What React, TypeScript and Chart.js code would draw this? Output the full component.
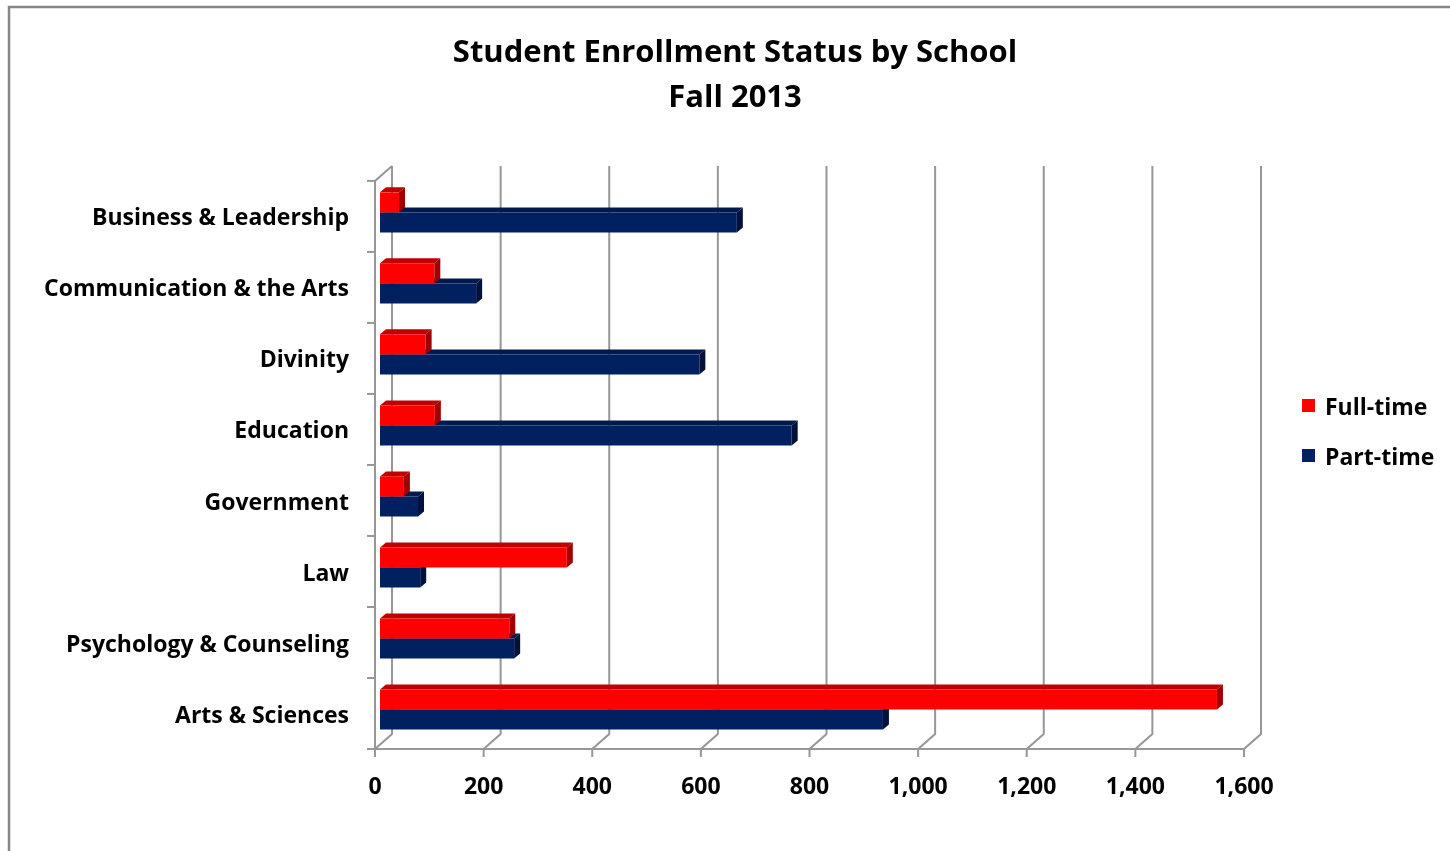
import React, { useEffect, useRef } from "react";
import { Chart, registerables } from "chart.js";

Chart.register(...registerables);

const titleLines = ["Student Enrollment Status by School", "Fall 2013"];
const schools = [
  "Business & Leadership",
  "Communication & the Arts",
  "Divinity",
  "Education",
  "Government",
  "Law",
  "Psychology & Counseling",
  "Arts & Sciences",
];
const fullTime = [35, 100, 84, 101, 44, 344, 238, 1541];
const partTime = [657, 177, 588, 758, 70, 74, 247, 926];
const xTickValues = [0, 200, 400, 600, 800, 1000, 1200, 1400, 1600];
const seriesNames = ["Full-time", "Part-time"];
const seriesColors = ["#FF0000", "#002060"];
const topColors = ["#C00000", "#001A4D"];
const sideColors = ["#A00000", "#00123A"];

const FONT = "'Open Sans', Lato, sans-serif";

// 3D offsets relative to the bar plane
const FRONT = { dx: -5, dy: 4 };
const BACK = { dx: 12, dy: -11 };
const BAR_DEPTH = { dx: 6, dy: -5 };
const GRID_COLOR = "#979797";

const threeD = {
  id: "threeD",
  beforeDraw(chart: any) {
    const ctx = chart.ctx;
    ctx.save();
    ctx.fillStyle = "#ffffff";
    ctx.fillRect(0, 0, chart.width, chart.height);
    ctx.strokeStyle = "#878787";
    ctx.lineWidth = 2.5;
    ctx.strokeRect(9, 7, chart.width + 50, chart.height + 50);
    ctx.restore();
  },
  beforeDatasetsDraw(chart: any) {
    const ctx = chart.ctx;
    const xs = chart.scales.x;
    const a = chart.chartArea;
    ctx.save();
    ctx.strokeStyle = GRID_COLOR;
    ctx.lineWidth = 2;
    ctx.lineCap = "butt";
    const fTop = a.top + FRONT.dy;
    const fBot = a.bottom + FRONT.dy;
    const bTop = a.top + BACK.dy;
    const bBot = a.bottom + BACK.dy;
    const fLeft = xs.getPixelForValue(xTickValues[0]) + FRONT.dx;
    const fRight = xs.getPixelForValue(xTickValues[xTickValues.length - 1]) + FRONT.dx;
    // back gridlines and floor diagonals
    xTickValues.forEach((v) => {
      const x = xs.getPixelForValue(v);
      const xb = x + BACK.dx;
      const xf = x + FRONT.dx;
      ctx.beginPath();
      ctx.moveTo(xb, bTop);
      ctx.lineTo(xb, bBot);
      ctx.lineTo(xf, fBot);
      ctx.lineTo(xf, fBot + 8);
      ctx.stroke();
    });
    // front axis line
    ctx.beginPath();
    ctx.moveTo(fLeft - 8, fBot);
    ctx.lineTo(fRight, fBot);
    ctx.stroke();
    // left wall front edge + top diagonal
    const xb0 = xs.getPixelForValue(0) + BACK.dx;
    ctx.beginPath();
    ctx.moveTo(xb0, bTop);
    ctx.lineTo(fLeft, fTop);
    ctx.lineTo(fLeft, fBot);
    ctx.stroke();
    // category ticks on left
    const n = schools.length;
    const band = (fBot - fTop) / n;
    for (let k = 0; k < n; k++) {
      const y = fTop + band * k;
      ctx.beginPath();
      ctx.moveTo(fLeft - 8, y);
      ctx.lineTo(fLeft, y);
      ctx.stroke();
    }
    // bar 3D faces
    for (let di = chart.data.datasets.length - 1; di >= 0; di--) {
      const meta = chart.getDatasetMeta(di);
      meta.data.forEach((el: any) => {
        const p = el.getProps(["x", "y", "base", "height"], true);
        const left = Math.min(p.base, p.x);
        const right = Math.max(p.base, p.x);
        const top = p.y - p.height / 2;
        const bottom = p.y + p.height / 2;
        ctx.fillStyle = topColors[di];
        ctx.beginPath();
        ctx.moveTo(left, top);
        ctx.lineTo(right, top);
        ctx.lineTo(right + BAR_DEPTH.dx, top + BAR_DEPTH.dy);
        ctx.lineTo(left + BAR_DEPTH.dx, top + BAR_DEPTH.dy);
        ctx.closePath();
        ctx.fill();
        ctx.fillStyle = sideColors[di];
        ctx.beginPath();
        ctx.moveTo(right, top);
        ctx.lineTo(right + BAR_DEPTH.dx, top + BAR_DEPTH.dy);
        ctx.lineTo(right + BAR_DEPTH.dx, bottom + BAR_DEPTH.dy);
        ctx.lineTo(right, bottom);
        ctx.closePath();
        ctx.fill();
      });
    }
    ctx.restore();
  },
  afterDraw(chart: any) {
    const ctx = chart.ctx;
    ctx.save();
    ctx.font = `bold 23px ${FONT}`;
    ctx.textBaseline = "middle";
    ctx.textAlign = "left";
    chart.data.datasets.forEach((ds: any, i: number) => {
      const y = 406 + i * 50;
      ctx.fillStyle = ds.backgroundColor;
      ctx.fillRect(1302, y - 7, 13, 13);
      ctx.fillStyle = "#000000";
      ctx.fillText(ds.label, 1325, y + 2);
    });
    ctx.restore();
  },
};

export default function App() {
  const ref = useRef<HTMLCanvasElement | null>(null);
  useEffect(() => {
    if (!ref.current) return;
    const chart = new Chart(ref.current, {
      type: "bar",
      data: {
        labels: schools,
        datasets: [
          {
            label: seriesNames[0],
            data: fullTime,
            backgroundColor: seriesColors[0],
            categoryPercentage: 0.565,
            barPercentage: 1.0,
            xAxisID: "x",
            yAxisID: "y",
          },
          {
            label: seriesNames[1],
            data: partTime,
            backgroundColor: seriesColors[1],
            categoryPercentage: 0.565,
            barPercentage: 1.0,
            xAxisID: "x",
            yAxisID: "y",
          },
        ],
      },
      options: {
        indexAxis: "y",
        responsive: false,
        animation: false,
        layout: { padding: 0 },
        plugins: {
          legend: { display: false },
          tooltip: { enabled: false },
          title: {
            display: true,
            text: titleLines,
            color: "#000000",
            font: { family: FONT, size: 31, weight: "bold", lineHeight: 1.45 },
            padding: { top: 31, bottom: 56 },
          },
        },
        scales: {
          x: {
            type: "linear",
            min: 0,
            max: 1600,
            grid: { display: false, drawTicks: false },
            border: { display: false },
            afterBuildTicks: (s: any) => {
              s.ticks = xTickValues.map((v) => ({ value: v }));
            },
            afterFit: (s: any) => {
              s.height = 106;
            },
            ticks: {
              color: "#000000",
              font: { family: FONT, size: 23, weight: "bold" },
              padding: 29,
              labelOffset: FRONT.dx,
              maxRotation: 0,
              autoSkip: false,
              callback: (v: any) => Number(v).toLocaleString("en-US"),
            },
          },
          y: {
            type: "category",
            grid: { display: false, drawTicks: false },
            border: { display: false },
            afterFit: (s: any) => {
              s.width = 380;
            },
            ticks: {
              color: "#000000",
              font: { family: FONT, size: 23, weight: "bold" },
              padding: 31,
              labelOffset: FRONT.dy + 2.5,
              autoSkip: false,
            },
          },
          legendSpace: {
            type: "linear",
            position: "right",
            display: true,
            grid: { display: false, drawTicks: false },
            border: { display: false },
            ticks: { display: false },
            afterFit: (s: any) => {
              s.width = 221;
            },
          },
        },
      },
      plugins: [threeD],
    });
    return () => chart.destroy();
  }, []);
  return (
    <div
      style={{
        position: "absolute",
        left: 0,
        top: 0,
        width: 1450,
        height: 851,
        overflow: "hidden",
        background: "#ffffff",
      }}
    >
      <canvas ref={ref} width={1470} height={851} style={{ display: "block" }} />
    </div>
  );
}
